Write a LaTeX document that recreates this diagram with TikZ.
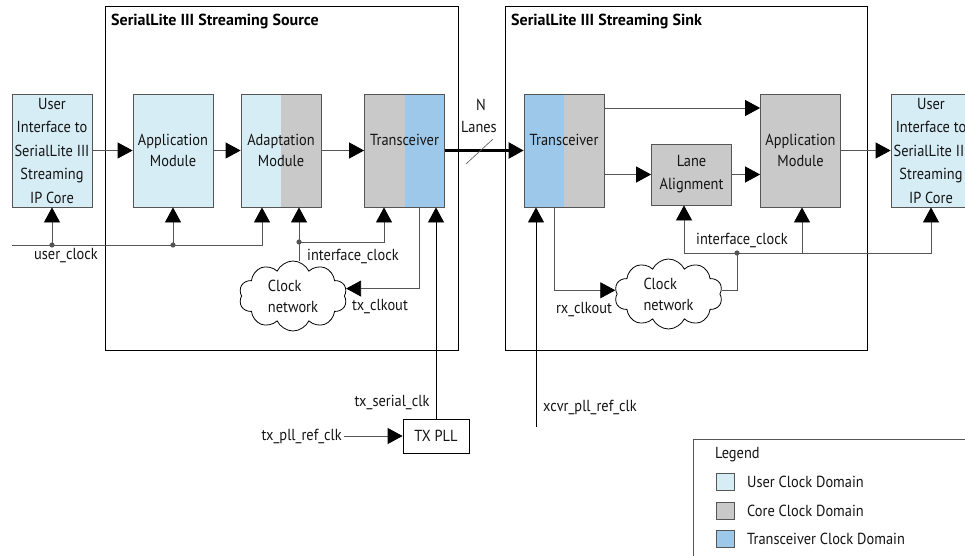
\documentclass[tikz,border=0pt]{standalone}
\usepackage{fontspec}
\setmainfont{PT Sans}[FakeStretch=0.9]
\newfontfamily\ttlfam{PT Sans}
\usetikzlibrary{arrows.meta,shapes.symbols,calc}
\definecolor{userc}{RGB}{215,237,245}
\definecolor{corec}{RGB}{201,201,201}
\definecolor{xcvrc}{RGB}{158,200,234}
\definecolor{linec}{RGB}{85,85,85}
\definecolor{txtc}{RGB}{20,20,20}
\newcommand\dfnt{\fontsize{16}{21}\selectfont}
\newcommand\uifnt{\fontsize{16}{23.5}\selectfont}
\tikzset{
  tip/.tip={Triangle[length=15pt,width=16pt,color=black]},
  blk/.style={draw=linec, line width=0.8pt, minimum width=80pt, minimum height=113pt,
    inner sep=0pt, align=center, font=\dfnt, text=txtc},
  halfR/.style={path picture={\fill[#1] (path picture bounding box.north) rectangle (path picture bounding box.south east);}},
  conn/.style={draw=linec, line width=0.8pt},
  arr/.style={conn, -tip},
  barr/.style={draw=black, line width=0.8pt, -tip},
  lbl/.style={font=\dfnt, text=txtc, inner sep=2pt},
  cloudn/.style={cloud, cloud puffs=10, cloud puff arc=130, aspect=1.6, draw=black, line width=0.8pt,
    minimum width=108pt, minimum height=70pt, align=left, font=\dfnt, text=txtc, inner sep=0pt},
  frame/.style={draw=black, line width=0.8pt},
  ttl/.style={anchor=west, font=\ttlfam\bfseries\fontsize{16}{18}\selectfont, text=black, inner sep=0pt},
  sq/.style={draw=linec, line width=0.6pt, minimum width=18pt, minimum height=17pt, inner sep=0pt},
  dotc/.style={fill=linec}
}
\begin{document}
\begin{tikzpicture}[x=1pt,y=-1pt]
\useasboundingbox (0,0) rectangle (965,556);
\fill[white] (0,0) rectangle (965,556);
% frames
\draw[frame] (105,6) rectangle (458,350);
\draw[frame] (505,6) rectangle (867,350);
\node[ttl] (tsrc) at (111,21) {SerialLite III Streaming Source};
\node[ttl] (tsnk) at (511,21) {SerialLite III Streaming Sink};
% blocks
\node[blk, fill=userc, font=\uifnt] (uil) at (52,150.5) {User\\Interface to\\SerialLite III\\Streaming\\IP Core};
\node[blk, fill=userc] (apps) at (173,150.5) {Application\\Module};
\node[blk, fill=userc, halfR=corec] (adapt) at (281,150.5) {Adaptation\\Module};
\node[blk, fill=corec, halfR=xcvrc] (xcvrs) at (404.5,150.5) {Transceiver\\\phantom{M}};
\node[blk, fill=xcvrc, halfR=corec] (xcvrr) at (564,150.5) {Transceiver\\\phantom{M}};
\node[blk, fill=corec, minimum height=61pt, font=\fontsize{16}{23}\selectfont] (lanea) at (691.5,174.5) {Lane\\Alignment};
\node[blk, fill=corec] (appr) at (800.5,150.5) {Application\\Module};
\node[blk, fill=userc, font=\uifnt] (uir) at (931,150.5) {User\\Interface to\\SerialLite III\\Streaming\\IP Core};
% clouds
\node[cloudn] (scl) at (293,296) {Clock\\network};
\node[cloudn] (kcl) at (668.5,294) {Clock\\network};
% TX PLL
\node[draw=black, line width=0.8pt, minimum width=66pt, minimum height=34pt, inner sep=0pt, font=\dfnt, text=txtc] (txpll) at (436,436) {TX PLL};
% labels
\node[lbl] (luc) at (66,256) {user\_clock};
\node[lbl] (lic1) at (353,256) {interface\_clock};
\node[lbl] (ltxo) at (380,307) {tx\_clkout};
\node[lbl] (ln) at (481,105) {N};
\node[lbl] (llanes) at (479,127) {Lanes};
\node[lbl] (lrxo) at (584,310) {rx\_clkout};
\node[lbl] (lic2) at (742,240) {interface\_clock};
\node[lbl] (ltsc) at (392,402) {tx\_serial\_clk};
\node[lbl, anchor=east] (ltpr) at (344,436) {tx\_pll\_ref\_clk};
\node[lbl] (lxpr) at (590,407) {xcvr\_pll\_ref\_clk};
% data path
\draw[arr] (uil) -- (apps);
\draw[arr] (apps) -- (adapt);
\draw[arr] (adapt) -- (xcvrs);
\draw[draw=black, line width=2.4pt, -{Triangle[length=15pt,width=16pt]}] (xcvrs) -- (xcvrr);
\draw[linec, line width=0.6pt] (466,164) -- (493,139);
\draw[arr] (xcvrr.east |- 0,108) -- (appr.west |- 0,108);
\draw[arr] (xcvrr.east |- lanea.west) -- (lanea.west);
\draw[arr] (lanea.east) -- (appr.west |- lanea.east);
\draw[arr] (appr) -- (uir);
% user clock
\coordinate (uc0) at (12,245);
\draw[arr] (uc0) -| ([xshift=-19pt]adapt.south);
\draw[arr] (uil.south |- uc0) -- (uil.south);
\draw[arr] (apps.south |- uc0) -- (apps.south);
\fill[dotc] (uil.south |- uc0) circle (2.6pt);
\fill[dotc] (apps.south |- uc0) circle (2.6pt);
% source interface clock
\coordinate (ics) at (299,242);
\draw[arr] (ics |- scl.north) -- ([xshift=18pt]adapt.south);
\draw[arr] (ics) -| ([xshift=-20.5pt]xcvrs.south);
\fill[dotc] (ics) circle (2.6pt);
\draw[arr] ([xshift=14.5pt]xcvrs.south) |- (scl.8);
% tx pll
\draw[barr] (txpll.north) -- (xcvrs.south -| txpll.north);
\draw[conn, -tip] (ltpr.east) -- (txpll.west);
% sink clocks
\coordinate (xp0) at (536,427);
\draw[barr] (xp0) -- (xcvrr.south -| xp0);
\draw[arr] ([xshift=-10pt]xcvrr.south) |- (kcl.176);
\coordinate (ick) at (737,253);
\draw[conn] (kcl.4) -| (ick);
\draw[arr] (ick) -| ([xshift=-7.5pt]lanea.south);
\draw[arr] (ick) -| ([xshift=1.5pt]appr.south);
\draw[arr] (ick) -| (uir.south);
\fill[dotc] (ick) circle (2.6pt);
% legend
\draw[draw=linec, line width=0.8pt] (693,439) rectangle (990,580);
\node[lbl, anchor=west] (lgt) at (713,455) {Legend};
\node[sq, fill=userc] (s1) at (725,482) {};
\node[sq, fill=corec] (s2) at (725,511) {};
\node[sq, fill=xcvrc] (s3) at (725,539) {};
\node[lbl, anchor=west] (t1) at (745,482) {User Clock Domain};
\node[lbl, anchor=west] (t2) at (745,511) {Core Clock Domain};
\node[lbl, anchor=west] (t3) at (745,539) {Transceiver Clock Domain};
\end{tikzpicture}
\end{document}
